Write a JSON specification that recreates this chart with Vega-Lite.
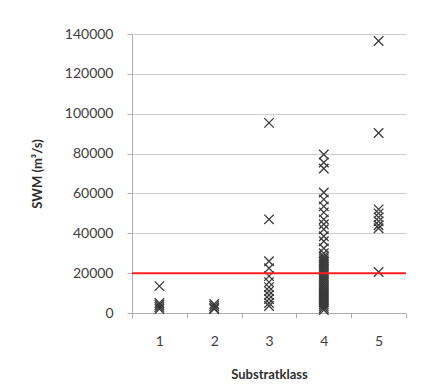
{
  "$schema": "https://vega.github.io/schema/vega-lite/v6.json",
  "width": 274,
  "height": 279,
  "autosize": {"type": "none"},
  "padding": {"left": 132, "top": 34, "right": 15, "bottom": 76},
  "background": "white",
  "config": {
    "view": {"stroke": null},
    "font": "Lato",
    "axis": {"labelColor": "#404040", "titleColor": "#303030", "labelFontSize": 14, "titleFontSize": 13, "titleFontWeight": "bold", "labelOverlap": false}
  },
  "datasets": {
    "pts": [
      {"klass": "1", "swm": 13500}, {"klass": "1", "swm": 5000}, {"klass": "1", "swm": 4000}, {"klass": "1", "swm": 3000}, {"klass": "1", "swm": 2000},
      {"klass": "2", "swm": 4500}, {"klass": "2", "swm": 3500}, {"klass": "2", "swm": 2500}, {"klass": "2", "swm": 2000},
      {"klass": "3", "swm": 95400}, {"klass": "3", "swm": 47000}, {"klass": "3", "swm": 26000}, {"klass": "3", "swm": 22500}, {"klass": "3", "swm": 18500}, {"klass": "3", "swm": 15500}, {"klass": "3", "swm": 13000}, {"klass": "3", "swm": 11000}, {"klass": "3", "swm": 9000}, {"klass": "3", "swm": 7000}, {"klass": "3", "swm": 5000}, {"klass": "3", "swm": 3500},
      {"klass": "4", "swm": 79500}, {"klass": "4", "swm": 75500}, {"klass": "4", "swm": 72500}, {"klass": "4", "swm": 60500}, {"klass": "4", "swm": 57000}, {"klass": "4", "swm": 53500}, {"klass": "4", "swm": 50500}, {"klass": "4", "swm": 47000}, {"klass": "4", "swm": 44500}, {"klass": "4", "swm": 42000}, {"klass": "4", "swm": 38500}, {"klass": "4", "swm": 36000}, {"klass": "4", "swm": 32500}, {"klass": "4", "swm": 30000},
      {"klass": "4", "swm": 28500}, {"klass": "4", "swm": 27500}, {"klass": "4", "swm": 26500}, {"klass": "4", "swm": 25500}, {"klass": "4", "swm": 24500}, {"klass": "4", "swm": 23500}, {"klass": "4", "swm": 22500}, {"klass": "4", "swm": 21500}, {"klass": "4", "swm": 20500}, {"klass": "4", "swm": 19500}, {"klass": "4", "swm": 18500}, {"klass": "4", "swm": 17500}, {"klass": "4", "swm": 16500}, {"klass": "4", "swm": 15500}, {"klass": "4", "swm": 14500}, {"klass": "4", "swm": 13500}, {"klass": "4", "swm": 12500}, {"klass": "4", "swm": 11500}, {"klass": "4", "swm": 10500}, {"klass": "4", "swm": 9500}, {"klass": "4", "swm": 8500}, {"klass": "4", "swm": 7500}, {"klass": "4", "swm": 6500}, {"klass": "4", "swm": 5500}, {"klass": "4", "swm": 4500}, {"klass": "4", "swm": 3500}, {"klass": "4", "swm": 2500}, {"klass": "4", "swm": 1500},
      {"klass": "5", "swm": 136500}, {"klass": "5", "swm": 90300}, {"klass": "5", "swm": 52000}, {"klass": "5", "swm": 50000}, {"klass": "5", "swm": 48000}, {"klass": "5", "swm": 46000}, {"klass": "5", "swm": 44000}, {"klass": "5", "swm": 42500}, {"klass": "5", "swm": 20600}
    ],
    "ref": [{"level": 20000}]
  },
  "layer": [
    {
      "data": {"name": "pts"},
      "mark": {"type": "point", "shape": "M-1,-1L1,1M-1,1L1,-1", "size": 90, "filled": false, "stroke": "#3a3a3a", "strokeWidth": 1.3, "opacity": 1},
      "encoding": {
        "x": {
          "field": "klass", "type": "ordinal",
          "scale": {"domain": ["1", "2", "3", "4", "5"], "paddingInner": 0, "paddingOuter": 0},
          "axis": {"title": "Substratklass", "labelAngle": 0, "tickBand": "extent", "tickSize": 5, "tickColor": "#b0b0b0", "domainColor": "#b0b0b0", "labelPadding": 16, "titlePadding": 20, "grid": false}
        },
        "y": {
          "field": "swm", "type": "quantitative",
          "scale": {"domain": [0, 140000], "nice": false},
          "axis": {"title": "SWM (m³/s)", "values": [0, 20000, 40000, 60000, 80000, 100000, 120000, 140000], "tickCount": 20, "format": "d", "tickSize": 5, "tickColor": "#b0b0b0", "domainColor": "#b0b0b0", "gridColor": "#cfcfcf", "labelPadding": 14, "titlePadding": 20, "labelOverlap": false}
        }
      }
    },
    {
      "data": {"name": "ref"},
      "mark": {"type": "rule", "color": "#ff2020", "strokeWidth": 2},
      "encoding": {"y": {"field": "level", "type": "quantitative",
          "axis": {"title": "SWM (m³/s)", "values": [0, 20000, 40000, 60000, 80000, 100000, 120000, 140000], "tickCount": 20, "format": "d", "tickSize": 5, "tickColor": "#b0b0b0", "domainColor": "#b0b0b0", "gridColor": "#cfcfcf", "labelPadding": 14, "titlePadding": 20, "labelOverlap": false}}}
    }
  ]
}
